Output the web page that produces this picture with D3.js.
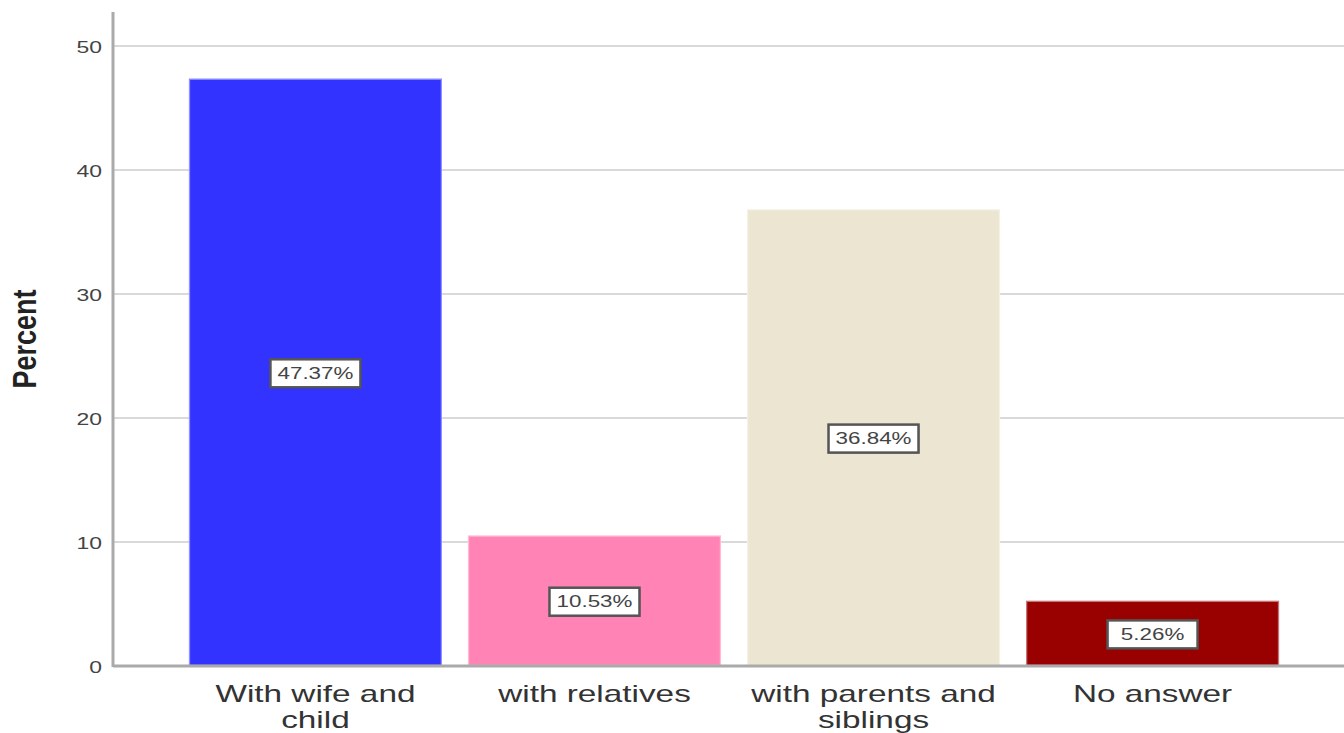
<!DOCTYPE html>
<html><head><meta charset="utf-8">
<script src="https://cdn.jsdelivr.net/npm/d3@7"></script>
<style>body{margin:0;background:#fff}svg{display:block}</style>
</head><body>
<script>
const categories = [["With wife and","child"],["with relatives"],["with parents and","siblings"],["No answer"]];
const values = [47.37, 10.53, 36.84, 5.26];
const colors = ["#3333ff", "#ff83b4", "#ece5d2", "#990000"];
const yTicks = [0, 10, 20, 30, 40, 50];

const W = 1344, H = 733;
const FONT = "Liberation Sans, Arial, sans-serif";
const svg = d3.select("body").append("svg").attr("width", W).attr("height", H);
const x0 = 113, yBase = 666;
const y = d3.scaleLinear().domain([0, 50]).range([yBase, 46]);
const x = d3.scaleBand().domain(d3.range(values.length)).range([x0, 1355]).paddingInner(0.093).paddingOuter(0.272);

// gridlines
svg.append("g").selectAll("line").data(yTicks.filter(d => d > 0)).join("line")
  .attr("x1", x0).attr("x2", W).attr("y1", d => y(d)).attr("y2", d => y(d))
  .attr("stroke", "#d9d9d9").attr("stroke-width", 2);

// y axis ticks (horizontally stretched like the reference)
const yAxis = d3.axisLeft(y).tickValues(yTicks).tickSize(0).tickPadding(0);
const ga = svg.append("g").attr("transform", `translate(${x0},0)`).call(yAxis);
ga.select(".domain").remove();
ga.selectAll("text").attr("font-family", FONT).attr("font-size", 17).attr("fill", "#444")
  .attr("x", 0).attr("transform", "translate(-11,1) scale(1.35,1)");
svg.append("line").attr("x1", x0).attr("x2", x0).attr("y1", 12).attr("y2", yBase + 1)
  .attr("stroke", "#aaa").attr("stroke-width", 3);

// bars
svg.append("g").selectAll("rect").data(values).join("rect")
  .attr("x", (d, i) => x(i)).attr("width", x.bandwidth())
  .attr("y", d => y(d)).attr("height", d => yBase - y(d))
  .attr("fill", (d, i) => colors[i]);
svg.append("g").selectAll("rect").data(values).join("rect")
  .attr("x", (d, i) => x(i) + 0.5).attr("width", x.bandwidth() - 1)
  .attr("y", d => y(d) + 0.5).attr("height", d => yBase - y(d) - 1)
  .attr("fill", "none").attr("stroke", "#fff").attr("stroke-opacity", 0.45).attr("stroke-width", 1.5);

// baseline
svg.append("line").attr("x1", x0).attr("x2", W).attr("y1", yBase).attr("y2", yBase)
  .attr("stroke", "#aaa").attr("stroke-width", 3);

// value labels
const lab = svg.append("g").selectAll("g").data(values).join("g")
  .attr("transform", (d, i) => `translate(${x(i) + x.bandwidth() / 2},${y(d / 2) + 1})`);
lab.append("rect").attr("x", -45).attr("y", -14).attr("width", 90).attr("height", 28)
  .attr("fill", "#000").attr("opacity", 0.25).attr("transform", "translate(1,1)");
lab.append("rect").attr("x", -45).attr("y", -14).attr("width", 90).attr("height", 28)
  .attr("fill", "#fff").attr("stroke", "#555").attr("stroke-width", 2.5);
lab.append("text").attr("text-anchor", "middle").attr("dy", "0.36em")
  .attr("font-family", FONT).attr("font-size", 16).attr("fill", "#444")
  .attr("transform", "scale(1.4,1)")
  .text(d => d.toFixed(2) + "%");

// category labels
const cg = svg.append("g").selectAll("g").data(categories).join("g")
  .attr("transform", (d, i) => `translate(${x(i) + x.bandwidth() / 2},702) scale(1.45,1)`);
cg.append("text").attr("text-anchor", "middle").attr("font-family", FONT)
  .attr("font-size", 23).attr("fill", "#333")
  .selectAll("tspan").data(d => d).join("tspan")
  .attr("x", 0).attr("dy", (d, i) => i === 0 ? 0 : 26).text(d => d);

// y title
svg.append("text").attr("transform", "translate(36,339) rotate(-90) scale(1,1.25)")
  .attr("text-anchor", "middle").attr("font-family", FONT)
  .attr("font-size", 27).attr("font-weight", "bold").attr("fill", "#222").text("Percent");
</script>
</body></html>
